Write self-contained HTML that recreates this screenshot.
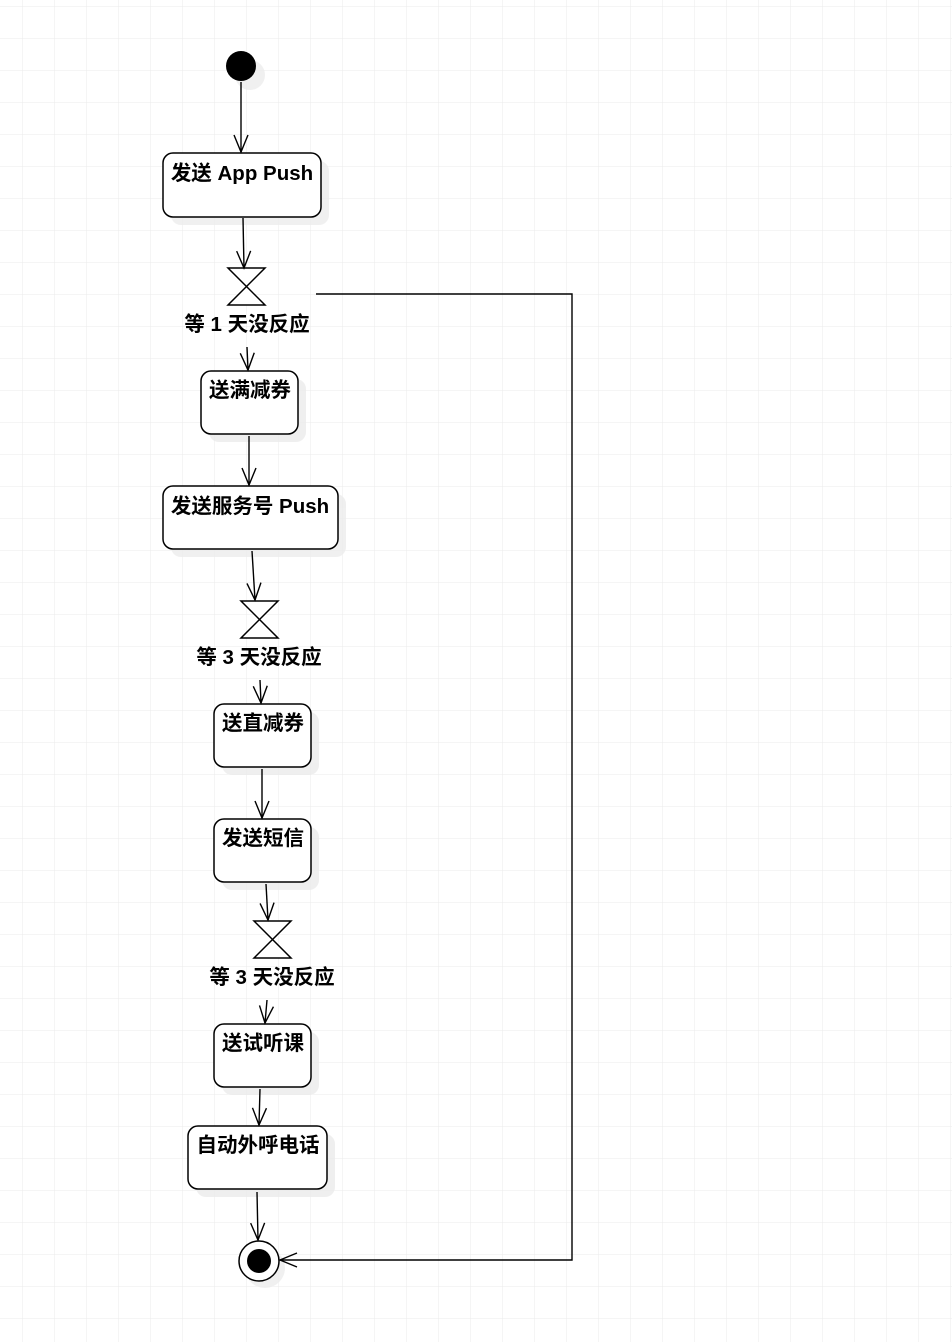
<!DOCTYPE html>
<html><head><meta charset="utf-8"><style>
html,body{margin:0;padding:0;background:#fff;}
svg{display:block;}
text{font-family:"Liberation Sans","Noto Sans CJK SC",sans-serif;font-weight:bold;font-size:20.5px;fill:#000;}
</style></head><body>
<svg width="952" height="1342" viewBox="0 0 952 1342" xmlns="http://www.w3.org/2000/svg">
<defs>
<pattern id="g" x="22" y="6" width="32" height="32" patternUnits="userSpaceOnUse">
<path d="M0 0H32M0 0V32" stroke="#ebebeb" stroke-width="1" fill="none"/>
</pattern>
<marker id="a" markerWidth="20" markerHeight="18" refX="18" refY="9" orient="auto" markerUnits="userSpaceOnUse">
<path d="M1 2L18 9L1 16" fill="none" stroke="#000" stroke-width="1.4"/>
</marker>
</defs>
<rect width="952" height="1342" fill="url(#g)"/>
<g fill="#ececec" opacity="0.8">
<circle cx="250" cy="75" r="15"/>
<rect x="171" y="161" width="158" height="64" rx="10"/>
<rect x="209" y="379" width="97" height="63" rx="10"/>
<rect x="171" y="494" width="175" height="63" rx="10"/>
<rect x="222" y="712" width="97" height="63" rx="10"/>
<rect x="222" y="827" width="97" height="63" rx="10"/>
<rect x="222" y="1032" width="97" height="63" rx="10"/>
<rect x="196" y="1134" width="139" height="63" rx="10"/>
<circle cx="265" cy="1268" r="20"/>
</g>
<circle cx="241" cy="66" r="15" fill="#000"/>
<g fill="#fff" stroke="#000" stroke-width="1.5">
<rect x="163" y="153" width="158" height="64" rx="10"/>
<rect x="201" y="371" width="97" height="63" rx="10"/>
<rect x="163" y="486" width="175" height="63" rx="10"/>
<rect x="214" y="704" width="97" height="63" rx="10"/>
<rect x="214" y="819" width="97" height="63" rx="10"/>
<rect x="214" y="1024" width="97" height="63" rx="10"/>
<rect x="188" y="1126" width="139" height="63" rx="10"/>
<circle cx="259" cy="1261" r="20"/>
<path d="M228 268H265L228 305H265Z"/>
<path d="M241 601H278L241 638H278Z"/>
<path d="M254 921H291L254 958H291Z"/>
</g>
<circle cx="259" cy="1261" r="12" fill="#000"/>
<g stroke="#000" stroke-width="1.4" fill="none" marker-end="url(#a)">
<path d="M241 82L241 152"/>
<path d="M243 218L244 268"/>
<path d="M247 347L248 370"/>
<path d="M249 436L249 485"/>
<path d="M252 551L255 600"/>
<path d="M260 680L261 703"/>
<path d="M262 769L262 818"/>
<path d="M266 884L268 920"/>
<path d="M267 1000L265 1023"/>
<path d="M260 1089L259 1125"/>
<path d="M257 1192L258 1240"/>
<path d="M316 294H572V1260H280"/>
</g>
<g text-anchor="middle">
<text x="242" y="180">发送 App Push</text>
<text x="247" y="331">等 1 天没反应</text>
<text x="250" y="397">送满减券</text>
<text x="250" y="513">发送服务号 Push</text>
<text x="259" y="664">等 3 天没反应</text>
<text x="263" y="730">送直减券</text>
<text x="263" y="845">发送短信</text>
<text x="272" y="984">等 3 天没反应</text>
<text x="263" y="1050">送试听课</text>
<text x="258" y="1152">自动外呼电话</text>
</g>
</svg>
</body></html>
